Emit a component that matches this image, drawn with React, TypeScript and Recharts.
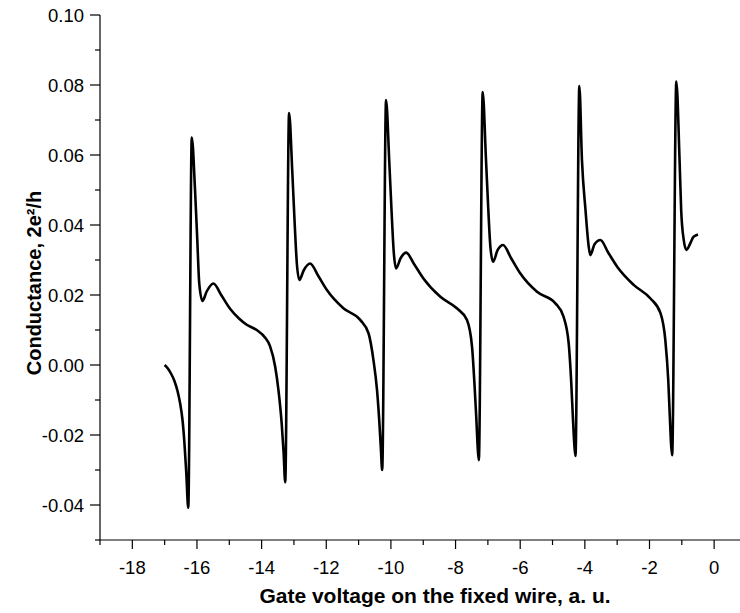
import React from "react"
import { LineChart, Line, XAxis, YAxis } from "recharts"

// gate voltage (a.u.) vs conductance (2e^2/h)
const leadIn = [
  [-17.0, 0.0], [-16.9, -0.001], [-16.8, -0.0025], [-16.7, -0.0045], [-16.6, -0.0075],
  [-16.52, -0.011], [-16.45, -0.0155], [-16.39, -0.022], [-16.33, -0.031], [-16.27, -0.0408],
]
const resonance1 = [
  [-16.16, 0.065], [-16.06, 0.05], [-15.99, 0.0357], [-15.93, 0.0234], [-15.83, 0.0183],
  [-15.7, 0.021], [-15.49, 0.0233], [-15.25, 0.02], [-14.97, 0.016], [-14.7, 0.0133],
  [-14.46, 0.0115], [-14.15, 0.01], [-13.89, 0.0078], [-13.74, 0.0054], [-13.58, -0.0005],
  [-13.48, -0.0071], [-13.38, -0.0166], [-13.32, -0.025], [-13.27, -0.0335],
]
const resonance2 = [
  [-13.15, 0.072], [-13.05, 0.055], [-12.98, 0.041], [-12.91, 0.029], [-12.83, 0.0243],
  [-12.7, 0.027], [-12.5, 0.029], [-12.25, 0.0255], [-11.98, 0.0214], [-11.47, 0.0162],
  [-10.95, 0.0129], [-10.69, 0.009], [-10.54, 0.0014], [-10.43, -0.0071], [-10.36, -0.016],
  [-10.31, -0.024], [-10.27, -0.03],
]
const resonance3 = [
  [-10.15, 0.0757], [-10.05, 0.058], [-9.98, 0.044], [-9.91, 0.032], [-9.84, 0.0276],
  [-9.7, 0.0305], [-9.53, 0.0321], [-9.28, 0.0288], [-9.0, 0.0248], [-8.47, 0.0195],
  [-7.96, 0.0162], [-7.65, 0.0129], [-7.49, 0.0052], [-7.41, -0.0062], [-7.36, -0.0148],
  [-7.31, -0.0243], [-7.28, -0.0272],
]
const resonance4 = [
  [-7.16, 0.078], [-7.06, 0.059], [-6.99, 0.045], [-6.92, 0.0335], [-6.84, 0.0295],
  [-6.7, 0.0328], [-6.53, 0.0343], [-6.28, 0.0305], [-6.0, 0.0262], [-5.48, 0.0209],
  [-4.91, 0.0176], [-4.66, 0.0138], [-4.5, 0.0062], [-4.42, -0.0052], [-4.37, -0.015],
  [-4.32, -0.0235], [-4.29, -0.026],
]
const resonance5 = [
  [-4.17, 0.0797], [-4.09, 0.0586], [-3.98, 0.0443], [-3.88, 0.0338], [-3.83, 0.0314],
  [-3.7, 0.0345], [-3.52, 0.0357], [-3.27, 0.032], [-3.0, 0.0281], [-2.49, 0.0229],
  [-1.97, 0.019], [-1.66, 0.0148], [-1.51, 0.0071], [-1.42, -0.0043], [-1.37, -0.015],
  [-1.33, -0.023], [-1.3, -0.0258],
]
const resonance6 = [
  [-1.17, 0.081], [-1.07, 0.0586], [-1.02, 0.0443], [-0.94, 0.0357], [-0.86, 0.0329],
  [-0.75, 0.0345], [-0.64, 0.0366], [-0.5, 0.0373],
]

const xTicks = [-19, -18, -17, -16, -15, -14, -13, -12, -11, -10, -9, -8, -7, -6, -5, -4, -3, -2, -1, 0]
const yTicks = [-0.05, -0.04, -0.03, -0.02, -0.01, 0, 0.01, 0.02, 0.03, 0.04, 0.05, 0.06, 0.07, 0.08, 0.09, 0.1]

const data = [leadIn, resonance1, resonance2, resonance3, resonance4, resonance5, resonance6]
  .flat()
  .map(([x, y]) => ({ x, y }))

const font = '"Liberation Sans", Arial, Helvetica, sans-serif'

function XTick(props: any) {
  const { x, y, payload } = props
  const major = Math.round(payload.value) % 2 === 0
  return (
    <g>
      <line x1={x} y1={y} x2={x} y2={y + (major ? 9 : 5)} stroke="#000" strokeWidth={1.2} />
      {major && (
        <text x={x} y={y + 34} textAnchor="middle" fontSize={18.5} fontFamily={font} fill="#000">
          {payload.value}
        </text>
      )}
    </g>
  )
}

function YTick(props: any) {
  const { x, y, payload } = props
  const major = Math.round(payload.value * 100) % 2 === 0
  return (
    <g>
      <line x1={x - (major ? 10 : 5)} y1={y} x2={x} y2={y} stroke="#000" strokeWidth={1.2} />
      {major && (
        <text x={x - 16} y={y + 6.5} textAnchor="end" fontSize={18.5} fontFamily={font} fill="#000">
          {payload.value.toFixed(2)}
        </text>
      )}
    </g>
  )
}

export default function App() {
  return (
    <div style={{ position: "absolute", left: 0, top: 0, width: 740, height: 613, background: "#fff" }}>
      <LineChart width={740} height={613} data={data} margin={{ top: 15, right: 0, bottom: 0, left: 0 }}>
        <XAxis
          type="number"
          dataKey="x"
          domain={[-19, 0.8]}
          ticks={xTicks}
          interval={0}
          allowDataOverflow
          height={73}
          tickSize={0}
          tickMargin={0}
          tickLine={false}
          tick={<XTick />}
          axisLine={{ stroke: "#000", strokeWidth: 1.2 }}
        />
        <YAxis
          type="number"
          dataKey="y"
          domain={[-0.05, 0.1]}
          ticks={yTicks}
          interval={0}
          allowDataOverflow
          width={100}
          tickSize={0}
          tickMargin={0}
          tickLine={false}
          tick={<YTick />}
          axisLine={{ stroke: "#000", strokeWidth: 1.2 }}
        />
        <Line
          type="monotone"
          dataKey="y"
          stroke="#000"
          strokeWidth={2.6}
          dot={false}
          isAnimationActive={false}
        />
      </LineChart>
      <div
        style={{
          position: "absolute",
          left: 435,
          top: 595,
          transform: "translate(-50%, -50%)",
          whiteSpace: "nowrap",
          fontFamily: font,
          fontWeight: "bold",
          fontSize: 21,
          lineHeight: 1,
        }}
      >
        Gate voltage on the fixed wire, a. u.
      </div>
      <div
        style={{
          position: "absolute",
          left: 34,
          top: 283,
          transform: "translate(-50%, -50%) rotate(-90deg)",
          whiteSpace: "nowrap",
          fontFamily: font,
          fontWeight: "bold",
          fontSize: 20,
          lineHeight: 1,
        }}
      >
        Conductance, 2e²/h
      </div>
    </div>
  )
}
